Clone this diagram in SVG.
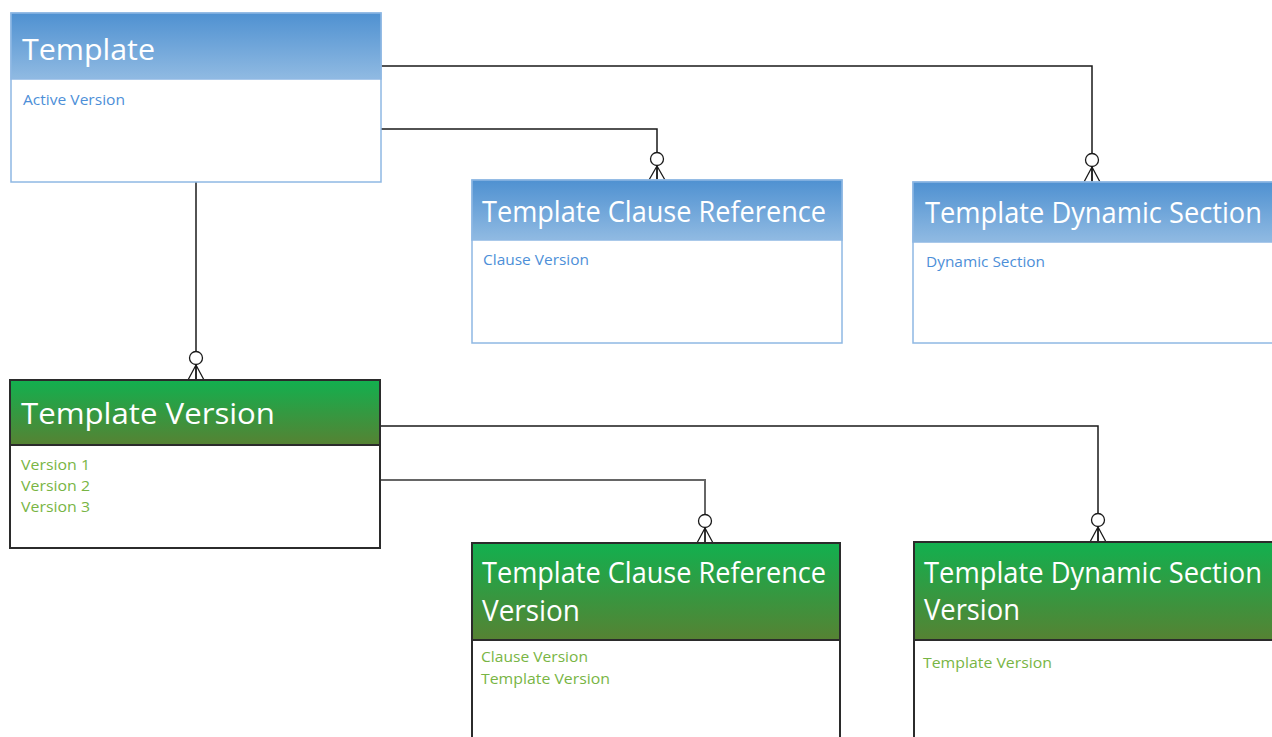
<svg xmlns="http://www.w3.org/2000/svg" width="1272" height="737" viewBox="0 0 1272 737">
<defs>
<linearGradient id="gBlue" x1="0" y1="0" x2="0" y2="1">
<stop offset="0" stop-color="#4f91d1"/>
<stop offset="1" stop-color="#90bae2"/>
</linearGradient>
<linearGradient id="gGreen" x1="0" y1="0" x2="0" y2="1">
<stop offset="0" stop-color="#12b04f"/>
<stop offset="1" stop-color="#568233"/>
</linearGradient>
</defs>
<style>
.bbody{fill:#ffffff;stroke:#8fb8e3;stroke-width:1.5}
.bhead{fill:url(#gBlue);stroke:#8fb8e3;stroke-width:1.5}
.gbody{fill:#ffffff;stroke:#2b2b2b;stroke-width:2}
.ghead{fill:url(#gGreen);stroke:#2b2b2b;stroke-width:2}
.title{font-family:"Open Sans","Noto Sans",sans-serif;font-size:29.5px;fill:#ffffff}
.battr{font-family:"Open Sans","Noto Sans",sans-serif;font-size:14px;fill:#4d8fd8}
.gattr{font-family:"Open Sans","Noto Sans",sans-serif;font-size:14px;fill:#78b544}
.line{fill:none;stroke:#1a1a1a;stroke-width:1.5}
.gline{fill:none;stroke:#666666;stroke-width:2}
.crow{fill:none;stroke:#1a1a1a;stroke-width:1.3}
.circ{fill:#ffffff;stroke:#1a1a1a;stroke-width:1.3}
</style>

<g id="connectors">
<path class="line" d="M381,66 H1092 V182"/>
<path class="line" d="M381,129 H657 V180"/>
<path class="line" d="M196,182 V380"/>
<path class="line" d="M380,426 H1098 V542"/>
<path class="gline" d="M380,480 H705 V543"/>
<circle class="circ" cx="1092" cy="160" r="6.5"/>
<path class="crow" d="M1092,167 L1084,182 M1092,167 V182 M1092,167 L1100,182"/>
<circle class="circ" cx="657" cy="159" r="6.5"/>
<path class="crow" d="M657,166 L649,180 M657,166 V180 M657,166 L665,180"/>
<circle class="circ" cx="196" cy="358" r="6.5"/>
<path class="crow" d="M196,365 L188,380 M196,365 V380 M196,365 L204,380"/>
<circle class="circ" cx="705" cy="521" r="6.5"/>
<path class="crow" d="M705,528 L697,543 M705,528 V543 M705,528 L713,543"/>
<circle class="circ" cx="1098" cy="520" r="6.5"/>
<path class="crow" d="M1098,527 L1090,542 M1098,527 V542 M1098,527 L1106,542"/>
</g>

<g id="template">
<rect class="bbody" x="11" y="13" width="370" height="169"/>
<rect class="bhead" x="11" y="13" width="370" height="66"/>
<text class="title" x="22" y="60" textLength="133" lengthAdjust="spacingAndGlyphs">Template</text>
<text class="battr" x="23" y="105" textLength="102" lengthAdjust="spacingAndGlyphs">Active Version</text>
</g>

<g id="template-clause-reference">
<rect class="bbody" x="472" y="180" width="370" height="163"/>
<rect class="bhead" x="472" y="180" width="370" height="60"/>
<text class="title" x="482" y="222" textLength="344" lengthAdjust="spacingAndGlyphs">Template Clause Reference</text>
<text class="battr" x="483" y="265" textLength="106" lengthAdjust="spacingAndGlyphs">Clause Version</text>
</g>

<g id="template-dynamic-section">
<rect class="bbody" x="913" y="182" width="380" height="161"/>
<rect class="bhead" x="913" y="182" width="380" height="60"/>
<text class="title" x="925" y="223" textLength="337" lengthAdjust="spacingAndGlyphs">Template Dynamic Section</text>
<text class="battr" x="926" y="267" textLength="119" lengthAdjust="spacingAndGlyphs">Dynamic Section</text>
</g>

<g id="template-version">
<rect class="gbody" x="10" y="380" width="370" height="168"/>
<rect class="ghead" x="10" y="380" width="370" height="65"/>
<text class="title" x="21" y="424" textLength="254" lengthAdjust="spacingAndGlyphs">Template Version</text>
<text class="gattr" x="21" y="470" textLength="69" lengthAdjust="spacingAndGlyphs">Version 1</text>
<text class="gattr" x="21" y="491" textLength="69" lengthAdjust="spacingAndGlyphs">Version 2</text>
<text class="gattr" x="21" y="512" textLength="69" lengthAdjust="spacingAndGlyphs">Version 3</text>
</g>

<g id="template-clause-reference-version">
<rect class="gbody" x="472" y="543" width="368" height="220"/>
<rect class="ghead" x="472" y="543" width="368" height="97"/>
<text class="title" x="482" y="583" textLength="344" lengthAdjust="spacingAndGlyphs">Template Clause Reference</text>
<text class="title" x="482" y="621" textLength="98" lengthAdjust="spacingAndGlyphs">Version</text>
<text class="gattr" x="481" y="662" textLength="107" lengthAdjust="spacingAndGlyphs">Clause Version</text>
<text class="gattr" x="481" y="684" textLength="129" lengthAdjust="spacingAndGlyphs">Template Version</text>
</g>

<g id="template-dynamic-section-version">
<rect class="gbody" x="914" y="542" width="380" height="221"/>
<rect class="ghead" x="914" y="542" width="380" height="98"/>
<text class="title" x="924" y="583" textLength="338" lengthAdjust="spacingAndGlyphs">Template Dynamic Section</text>
<text class="title" x="924" y="620" textLength="96" lengthAdjust="spacingAndGlyphs">Version</text>
<text class="gattr" x="923" y="668" textLength="129" lengthAdjust="spacingAndGlyphs">Template Version</text>
</g>
</svg>
